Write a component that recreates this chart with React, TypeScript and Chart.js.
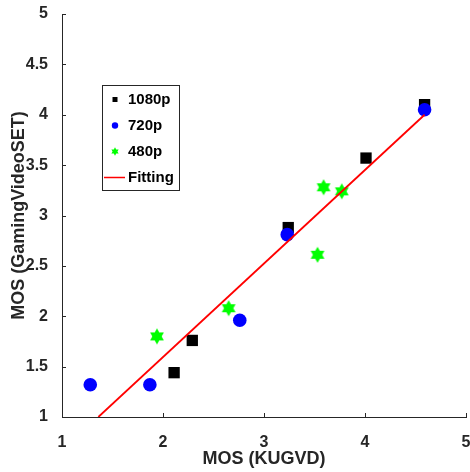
import React, { useEffect, useRef } from "react";
import { Chart, registerables } from "chart.js";

Chart.register(...registerables);

// ---- data ----
const res1080X = [4.59, 3.24, 4.01, 2.29, 2.11];
const res1080Y = [4.1, 2.88, 3.57, 1.76, 1.44];
const res720X = [4.59, 3.23, 2.76, 1.87, 1.28];
const res720Y = [4.05, 2.81, 1.96, 1.32, 1.32];
const res480X = [3.59, 3.77, 3.53, 2.65, 1.94];
const res480Y = [3.28, 3.24, 2.61, 2.08, 1.8];
const fitX = [1.36, 4.59];
const fitY = [1.0, 4.0];
const seriesLabels = ["1080p", "720p", "480p", "Fitting"];
const xTitle = "MOS (KUGVD)";
const yTitle = "MOS (GamingVideoSET)";
const xRange = [1, 5];
const yRange = [1, 5];

const FONT = "'Liberation Sans', Arial, Helvetica, sans-serif";
const AXIS_COLOR = "#262626";

const zip = (xs: number[], ys: number[]) => xs.map((x, i) => ({ x, y: ys[i] }));

function hexagramPath(ctx: CanvasRenderingContext2D, cx: number, cy: number, R: number) {
  const r = R / Math.sqrt(3);
  ctx.beginPath();
  for (let i = 0; i < 12; i++) {
    const a = -Math.PI / 2 + (i * Math.PI) / 6;
    const rad = i % 2 === 0 ? R : r;
    const px = cx + rad * Math.cos(a);
    const py = cy + rad * Math.sin(a);
    if (i === 0) ctx.moveTo(px, py);
    else ctx.lineTo(px, py);
  }
  ctx.closePath();
}

function makeStar(R: number, color: string) {
  const size = Math.ceil(R * 2 + 2);
  const c = document.createElement("canvas");
  c.width = size;
  c.height = size;
  const g = c.getContext("2d")!;
  g.fillStyle = color;
  hexagramPath(g, size / 2, size / 2, R);
  g.fill();
  return c;
}

const inwardTicks = {
  id: "inwardTicks",
  beforeDatasetsDraw(chart: any) {
    const { ctx, chartArea } = chart;
    const xs = chart.scales.x;
    const ys = chart.scales.y;
    ctx.save();
    ctx.strokeStyle = AXIS_COLOR;
    ctx.lineWidth = 1;
    ctx.beginPath();
    xs.ticks.forEach((t: any) => {
      const px = Math.round(xs.getPixelForValue(t.value)) + 0.5;
      ctx.moveTo(px, chartArea.bottom);
      ctx.lineTo(px, chartArea.bottom - 4);
    });
    ys.ticks.forEach((t: any) => {
      const py = Math.round(ys.getPixelForValue(t.value)) + 0.5;
      ctx.moveTo(chartArea.left, py);
      ctx.lineTo(chartArea.left + 4, py);
    });
    ctx.stroke();
    ctx.restore();
  },
};

const boxLegend = {
  id: "boxLegend",
  afterDatasetsDraw(chart: any) {
    const { ctx, chartArea } = chart;
    const x0 = Math.round(chartArea.left + 40);
    const y0 = Math.round(chartArea.top + 71);
    const w = 77;
    const h = 105;
    ctx.save();
    ctx.fillStyle = "#ffffff";
    ctx.fillRect(x0, y0, w, h);
    ctx.strokeStyle = AXIS_COLOR;
    ctx.lineWidth = 1;
    ctx.strokeRect(x0 + 0.5, y0 + 0.5, w, h);
    const datasets = chart.data.datasets;
    ctx.font = `bold 15px ${FONT}`;
    ctx.textBaseline = "middle";
    ctx.textAlign = "left";
    datasets.forEach((ds: any, i: number) => {
      const cy = y0 + 14.5 + i * 26;
      const mx = x0 + 13;
      if (ds.legendKind === "square") {
        ctx.fillStyle = ds.backgroundColor;
        ctx.fillRect(mx - 2.5, cy - 2.5, 5, 5);
      } else if (ds.legendKind === "circle") {
        ctx.fillStyle = ds.backgroundColor;
        ctx.beginPath();
        ctx.arc(mx, cy, 3.2, 0, Math.PI * 2);
        ctx.fill();
      } else if (ds.legendKind === "star") {
        ctx.fillStyle = ds.backgroundColor;
        hexagramPath(ctx, mx, cy, 4.2);
        ctx.fill();
      } else {
        ctx.strokeStyle = ds.borderColor;
        ctx.lineWidth = 1.5;
        ctx.beginPath();
        ctx.moveTo(x0 + 2, cy);
        ctx.lineTo(x0 + 23, cy);
        ctx.stroke();
      }
      ctx.fillStyle = "#000000";
      ctx.fillText(ds.label, x0 + 26, cy + 0.5);
    });
    ctx.restore();
  },
};

export default function App() {
  const ref = useRef<HTMLCanvasElement | null>(null);

  useEffect(() => {
    document.body.style.margin = "0";
    const canvas = ref.current!;
    const star = makeStar(8, "#00ff00");
    const chart = new Chart(canvas, {
      type: "scatter",
      data: {
        datasets: [
          {
            label: seriesLabels[0],
            data: zip(res1080X, res1080Y),
            pointStyle: "rect",
            pointRadius: 8,
            pointHoverRadius: 8,
            backgroundColor: "#000000",
            borderColor: "#000000",
            borderWidth: 0,
            order: 4,
            legendKind: "square",
          } as any,
          {
            label: seriesLabels[1],
            data: zip(res720X, res720Y),
            pointStyle: "circle",
            pointRadius: 6.8,
            pointHoverRadius: 6.8,
            backgroundColor: "#0000ff",
            borderColor: "#0000ff",
            borderWidth: 0,
            order: 3,
            legendKind: "circle",
          } as any,
          {
            label: seriesLabels[2],
            data: zip(res480X, res480Y),
            pointStyle: star,
            pointRadius: 8,
            backgroundColor: "#00ff00",
            borderColor: "#00ff00",
            borderWidth: 0,
            order: 2,
            legendKind: "star",
          } as any,
          {
            label: seriesLabels[3],
            data: zip(fitX, fitY),
            showLine: true,
            pointRadius: 0,
            pointHoverRadius: 0,
            borderColor: "#ff0000",
            backgroundColor: "#ff0000",
            borderWidth: 1.8,
            order: 1,
            legendKind: "line",
          } as any,
        ],
      },
      options: {
        responsive: false,
        animation: false,
        events: [],
        layout: { autoPadding: false, padding: { top: 14, right: 4, left: 0, bottom: 0 } },
        plugins: {
          legend: { display: false },
          tooltip: { enabled: false },
        },
        scales: {
          x: {
            type: "linear",
            min: xRange[0],
            max: xRange[1],
            grid: { display: false },
            border: { display: true, color: AXIS_COLOR, width: 1 },
            ticks: {
              stepSize: 1,
              padding: 8,
              color: AXIS_COLOR,
              font: { family: FONT, size: 16, weight: "bold" },
              callback: (v: any) => String(Number(v)),
            },
            title: {
              display: true,
              text: xTitle,
              color: AXIS_COLOR,
              padding: { top: 0, bottom: 2 },
              font: { family: FONT, size: 18, weight: "bold" },
            },
            afterFit: (s: any) => {
              s.height = 55;
              s.paddingLeft = 0;
              s.paddingRight = 0;
            },
          },
          y: {
            type: "linear",
            min: yRange[0],
            max: yRange[1],
            grid: { display: false },
            border: { display: true, color: AXIS_COLOR, width: 1 },
            ticks: {
              stepSize: 0.5,
              padding: 6,
              color: AXIS_COLOR,
              font: { family: FONT, size: 16, weight: "bold" },
              callback: (v: any) => String(Number(v)),
            },
            title: {
              display: true,
              text: yTitle,
              color: AXIS_COLOR,
              padding: { top: 8, bottom: 0 },
              font: { family: FONT, size: 18, weight: "bold" },
            },
            afterFit: (s: any) => {
              s.width = 62;
              s.paddingTop = 0;
              s.paddingBottom = 0;
            },
          },
        },
      },
      plugins: [inwardTicks, boxLegend],
    });
    return () => chart.destroy();
  }, []);

  return (
    <div style={{ position: "absolute", left: 0, top: 0, width: 470, height: 472, background: "#fff" }}>
      <canvas ref={ref} width={470} height={472} style={{ display: "block" }} />
    </div>
  );
}
